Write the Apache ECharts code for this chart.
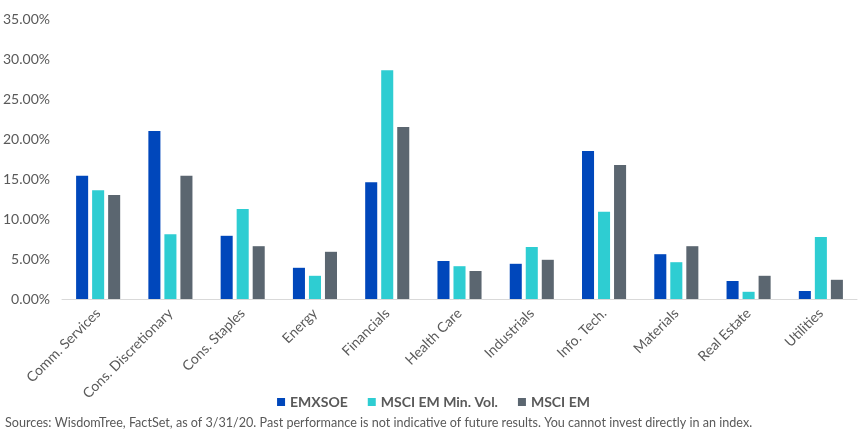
<!DOCTYPE html>
<html>
<head>
<meta charset="utf-8">
<script src="https://cdn.jsdelivr.net/npm/echarts@6/dist/echarts.min.js"></script>
<style>
  html, body { margin: 0; padding: 0; background: #fff; }
  #chart { width: 867px; height: 436px; }
</style>
</head>
<body>
<div id="chart"></div>
<script>
var sectors = ['Comm. Services', 'Cons. Discretionary', 'Cons. Staples', 'Energy', 'Financials',
  'Health Care', 'Industrials', 'Info. Tech.', 'Materials', 'Real Estate', 'Utilities']
var seriesNames = ['EMXSOE', 'MSCI EM Min. Vol.', 'MSCI EM']
var emxsoe = [15.4, 21.0, 7.9, 3.9, 14.6, 4.75, 4.4, 18.5, 5.6, 2.25, 1.0]
var minVol = [13.6, 8.1, 11.25, 2.9, 28.6, 4.1, 6.5, 10.9, 4.6, 0.9, 7.75]
var msciEm = [13.0, 15.4, 6.6, 5.9, 21.5, 3.5, 4.9, 16.75, 6.6, 2.9, 2.4]
var sourceText = 'Sources: WisdomTree, FactSet, as of 3/31/20. Past performance is not indicative of future results. You cannot invest directly in an index.'

;(function () {
  var myChart = echarts.init(document.getElementById('chart'))
  var font = 'Lato, "Open Sans", sans-serif'
  var option = {
    animation: false,
    color: ['#0047bb', '#2ecdd2', '#5b6670'],
    textStyle: { fontFamily: font },
    title: {
      text: sourceText,
      left: 0,
      top: 411,
      textStyle: { color: '#595959', fontSize: 12.6, fontWeight: 'normal', fontFamily: font }
    },
    legend: {
      data: seriesNames,
      left: 'center',
      top: 390,
      itemWidth: 8,
      itemHeight: 8,
      itemGap: 20,
      icon: 'rect',
      textStyle: { color: '#595959', fontSize: 14, fontWeight: 'bold', fontFamily: font }
    },
    grid: {
      left: 59,
      right: 10,
      top: 19,
      bottom: 137
    },
    xAxis: {
      type: 'category',
      data: sectors,
      axisTick: { show: false },
      axisLine: { lineStyle: { color: '#d9d9d9', width: 1 } },
      axisLabel: {
        rotate: 45,
        interval: 0,
        color: '#595959',
        fontSize: 14,
        margin: 12,
        fontFamily: font
      }
    },
    yAxis: {
      type: 'value',
      min: 0,
      max: 35,
      interval: 5,
      axisLine: { show: false },
      axisTick: { show: false },
      splitLine: { show: false },
      axisLabel: {
        color: '#595959',
        fontSize: 14,
        margin: 12,
        fontFamily: font,
        formatter: function (v) { return v.toFixed(2) + '%' }
      }
    },
    series: [
      { name: seriesNames[0], type: 'bar', data: emxsoe, barGap: '33%', barCategoryGap: '39%' },
      { name: seriesNames[1], type: 'bar', data: minVol, barGap: '33%', barCategoryGap: '39%' },
      { name: seriesNames[2], type: 'bar', data: msciEm, barGap: '33%', barCategoryGap: '39%' }
    ]
  }
  myChart.setOption(option)
  window.addEventListener('resize', function () {
    myChart.resize()
  })
})()
</script>
</body>
</html>
